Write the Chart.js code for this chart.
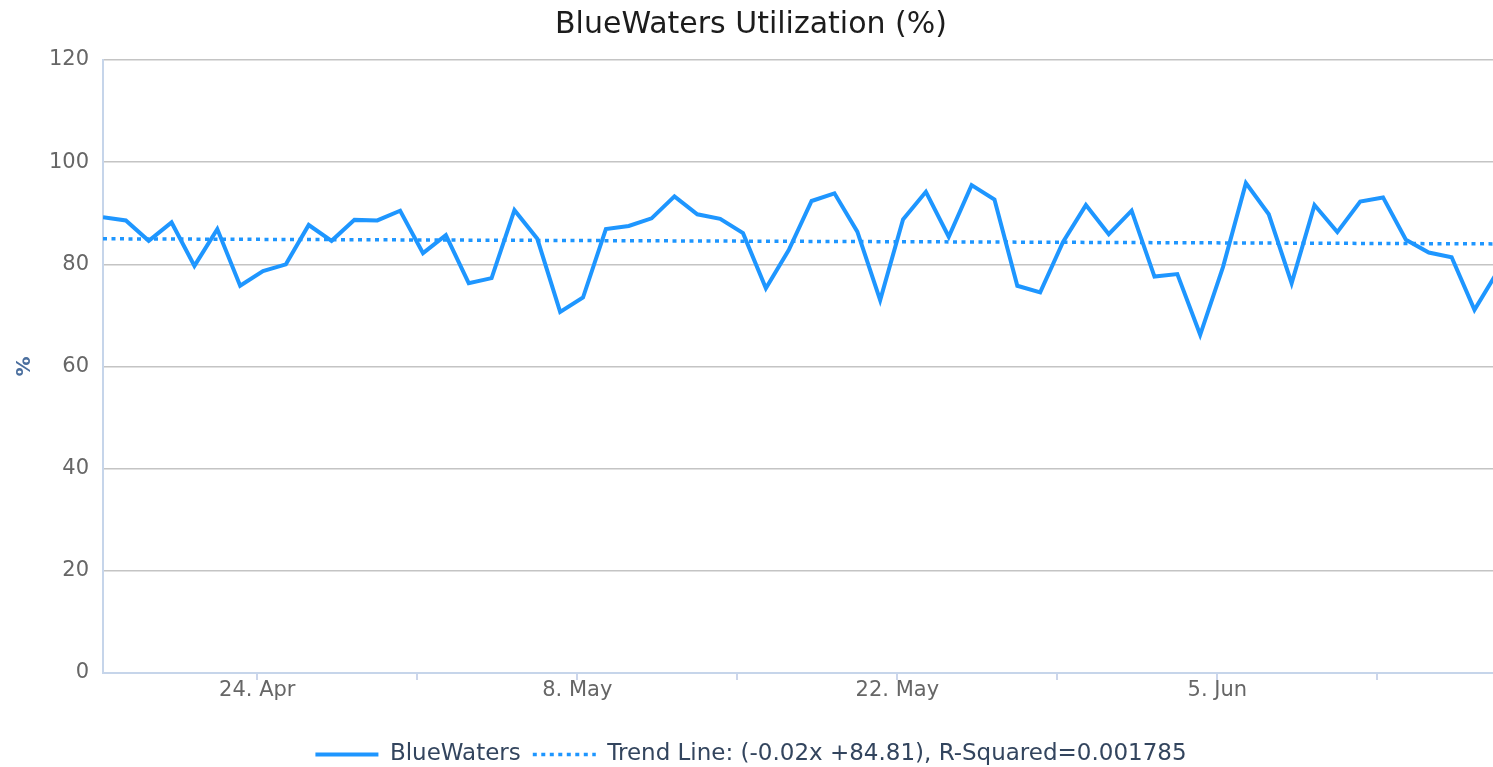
<!DOCTYPE html>
<html><head><meta charset="utf-8">
<script src="https://cdn.jsdelivr.net/npm/chart.js@4/dist/chart.umd.min.js"></script>
<style>html,body{margin:0;padding:0;background:#fff;} canvas{display:block;}</style>
</head><body>
<canvas id="c" width="1493" height="767"></canvas>
<script>
// Daily categories (17 Apr .. 17 Jun)
const dates = [
  '17 Apr','18 Apr','19 Apr','20 Apr','21 Apr','22 Apr','23 Apr','24 Apr','25 Apr','26 Apr','27 Apr','28 Apr','29 Apr','30 Apr',
  '1 May','2 May','3 May','4 May','5 May','6 May','7 May','8 May','9 May','10 May','11 May','12 May','13 May','14 May','15 May','16 May',
  '17 May','18 May','19 May','20 May','21 May','22 May','23 May','24 May','25 May','26 May','27 May','28 May','29 May','30 May','31 May',
  '1 Jun','2 Jun','3 Jun','4 Jun','5 Jun','6 Jun','7 Jun','8 Jun','9 Jun','10 Jun','11 Jun','12 Jun','13 Jun','14 Jun','15 Jun','16 Jun','17 Jun'
];
const utilization = [
  89.2, 88.6, 84.6, 88.2, 79.7, 86.9, 75.8, 78.7, 80.0, 87.7, 84.6, 88.7, 88.6, 90.5,
  82.2, 85.7, 76.3, 77.3, 90.6, 85.0, 70.7, 73.5, 86.9, 87.5, 89.0, 93.3, 89.8, 88.9, 86.1, 75.3,
  82.8, 92.4, 93.9, 86.4, 73.0, 88.8, 94.2, 85.4, 95.5, 92.7, 75.8, 74.5, 84.4, 91.6, 85.9,
  90.5, 77.6, 78.1, 66.2, 79.5, 95.9, 89.8, 76.3, 91.6, 86.3, 92.3, 93.1, 84.8, 82.3, 81.4, 71.1, 78.5
];
const trendValues = [85.0, 84.0];            // trend line at first and last day
const tickDays = [7, 14, 21, 28, 35, 42, 49, 56];   // days after 17 Apr
const tickLabels = ['24. Apr', '', '8. May', '', '22. May', '', '5. Jun', ''];
const yTicks = [0, 20, 40, 60, 80, 100, 120];

const DAY_OFFSET = 0.25;   // points sit at 06:00 of each day
const X_MIN = DAY_OFFSET;
const X_MAX = 61.06;

const mainData = utilization.map((v, i) => ({ x: i + DAY_OFFSET, y: v }));
const trendData = [
  { x: DAY_OFFSET, y: trendValues[0] },
  { x: dates.length - 1 + DAY_OFFSET, y: trendValues[1] }
];

const FONT = 'DejaVu Sans';

new Chart(document.getElementById('c'), {
  type: 'line',
  data: {
    datasets: [
      { label: 'BlueWaters', data: mainData, borderColor: '#1e96ff', backgroundColor: '#1e96ff',
        borderWidth: 4, pointRadius: 0, tension: 0, fill: false, order: 1 },
      { label: 'Trend Line: (-0.02x +84.81), R-Squared=0.001785', data: trendData, borderColor: '#1e96ff',
        backgroundColor: '#1e96ff', borderWidth: 3.5, borderDash: [4, 4.5], pointRadius: 0, fill: false, order: 0 }
    ]
  },
  options: {
    responsive: false, animation: false, devicePixelRatio: 1,
    layout: { padding: { left: 9, right: 0, top: 0, bottom: 0 } },
    plugins: {
      title: { display: true, text: 'BlueWaters Utilization (%)', color: '#1c1c1c',
        font: { family: FONT, size: 30, weight: 'normal' }, padding: { top: 7, bottom: 17 } },
      legend: {
        position: 'bottom', maxHeight: 36,
        labels: {
          usePointStyle: true, pointStyleWidth: 63, padding: 12, color: '#33455e',
          font: { family: FONT, size: 23 },
          generateLabels: (chart) => chart.data.datasets.map((ds, i) => ({
            text: ds.label, fillStyle: ds.borderColor, strokeStyle: ds.borderColor,
            lineWidth: ds.borderWidth, lineDash: ds.borderDash || [], lineCap: 'butt',
            pointStyle: 'line', hidden: false, datasetIndex: i, fontColor: '#33455e'
          }))
        }
      },
      tooltip: { enabled: false }
    },
    scales: {
      x: {
        type: 'linear', min: X_MIN, max: X_MAX,
        afterBuildTicks: (s) => { s.ticks = tickDays.map(v => ({ value: v })); },
        afterFit: (s) => { s.height = 58; },
        ticks: { autoSkip: false, maxRotation: 0, padding: -2, color: '#666666',
          font: { family: FONT, size: 21 },
          callback: (v) => { const k = tickDays.indexOf(v); return k >= 0 ? tickLabels[k] : ''; } },
        grid: { drawOnChartArea: false, drawTicks: true, tickLength: 7, color: '#ccd6eb', lineWidth: 2 },
        border: { display: true, color: '#c6d5ea', width: 2 }
      },
      y: {
        min: 0, max: 120,
        afterBuildTicks: (s) => { s.ticks = yTicks.map(v => ({ value: v })); },
        afterFit: (s) => { s.width = 94; },
        ticks: { padding: 14, color: '#666666', font: { family: FONT, size: 21 } },
        grid: { color: '#c4c4c4', lineWidth: 1.5, drawTicks: false },
        border: { display: true, color: '#c6d5ea', width: 2 },
        title: { display: true, text: '%', color: '#4b6f9e',
          font: { family: FONT, size: 20, weight: 'bold' }, padding: { top: 4, bottom: 0 } }
      }
    }
  }
});
</script>
</body></html>
